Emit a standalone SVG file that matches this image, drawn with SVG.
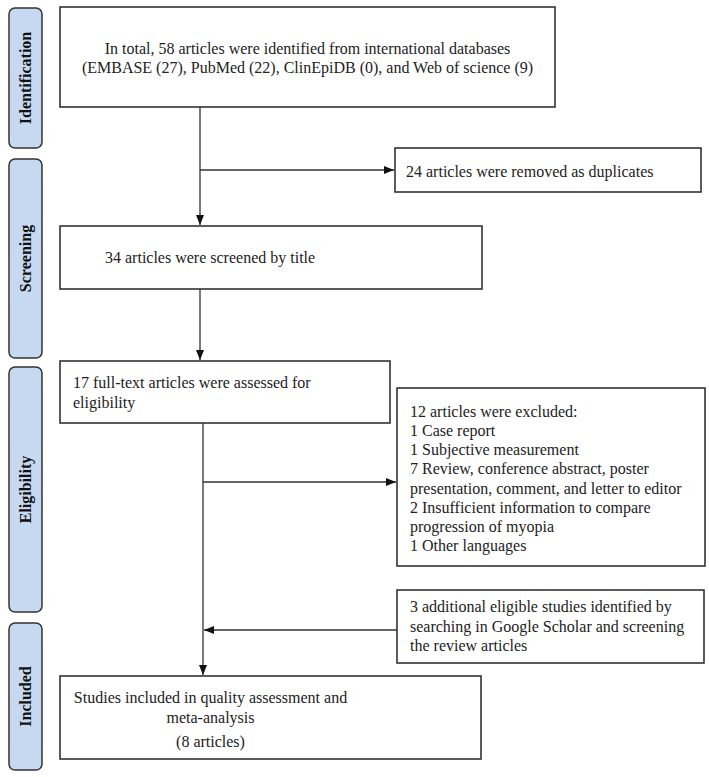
<svg xmlns="http://www.w3.org/2000/svg" width="709" height="777" viewBox="0 0 709 777">
<defs>
<marker id="ah" markerWidth="10" markerHeight="8" refX="10" refY="4" orient="auto" markerUnits="userSpaceOnUse">
<path d="M0,0 L10,4 L0,8 Z" fill="#111"/>
</marker>
<style>
.stage{fill:#c6d9f1;stroke:#333;stroke-width:1.5}
.stage-t{font-family:"Liberation Serif","Times New Roman",serif;font-size:16px;font-weight:bold;fill:#111;text-anchor:middle}
.box{fill:#fff;stroke:#333;stroke-width:1.6}
.t{font-family:"Liberation Serif","Times New Roman",serif;font-size:16px;fill:#222}
.c{text-anchor:middle}
.ln{stroke:#333;stroke-width:1.3;fill:none}
</style>
</defs>
<rect width="709" height="777" fill="#fff"/>
<g id="stage-identification">
<rect class="stage" x="9" y="8" width="33" height="140" rx="6"/>
<text class="stage-t" transform="translate(31,78) rotate(-90)">Identification</text>
</g>
<g id="stage-screening">
<rect class="stage" x="9" y="159" width="33" height="199" rx="6"/>
<text class="stage-t" transform="translate(31,258.5) rotate(-90)">Screening</text>
</g>
<g id="stage-eligibility">
<rect class="stage" x="9" y="367" width="33" height="245" rx="6"/>
<text class="stage-t" transform="translate(31,489.5) rotate(-90)">Eligibility</text>
</g>
<g id="stage-included">
<rect class="stage" x="9" y="623" width="33" height="147" rx="6"/>
<text class="stage-t" transform="translate(31,696.5) rotate(-90)">Included</text>
</g>
<g id="identified">
<rect class="box" x="60" y="7" width="495" height="100"/>
<text class="t c" x="307.5" y="54">In total, 58 articles were identified from international databases</text>
<text class="t c" x="307.5" y="73">(EMBASE (27), PubMed (22), ClinEpiDB (0), and Web of science (9)</text>
</g>
<g id="duplicates">
<rect class="box" x="395" y="148" width="306" height="44"/>
<text class="t" x="406" y="177">24 articles were removed as duplicates</text>
</g>
<g id="screened">
<rect class="box" x="60" y="226" width="422" height="63"/>
<text class="t" x="105" y="263">34 articles were screened by title</text>
</g>
<g id="fulltext">
<rect class="box" x="60" y="361" width="330" height="62"/>
<text class="t" x="73" y="388">17 full-text articles were assessed for</text>
<text class="t" x="73" y="408">eligibility</text>
</g>
<g id="excluded">
<rect class="box" x="397" y="388" width="308" height="178"/>
<text class="t" x="410" y="417">12 articles were excluded:</text>
<text class="t" x="410" y="436">1 Case report</text>
<text class="t" x="410" y="455">1 Subjective measurement</text>
<text class="t" x="410" y="474">7 Review, conference abstract, poster</text>
<text class="t" x="410" y="493.5">presentation, comment, and letter to editor</text>
<text class="t" x="410" y="512.5">2 Insufficient information to compare</text>
<text class="t" x="410" y="532">progression of myopia</text>
<text class="t" x="410" y="551">1 Other languages</text>
</g>
<g id="additional">
<rect class="box" x="397" y="590" width="307" height="73"/>
<text class="t" x="410" y="612">3 additional eligible studies identified by</text>
<text class="t" x="410" y="632">searching in Google Scholar and screening</text>
<text class="t" x="410" y="651">the review articles</text>
</g>
<g id="included">
<rect class="box" x="60" y="676" width="421" height="83"/>
<text class="t c" x="210.5" y="703">Studies included in quality assessment and</text>
<text class="t c" x="210.5" y="723">meta-analysis</text>
<text class="t c" x="210.5" y="747">(8 articles)</text>
</g>
<g id="connectors">
<line class="ln" x1="200" y1="107" x2="200" y2="225" marker-end="url(#ah)"/>
<line class="ln" x1="200" y1="170" x2="394" y2="170" marker-end="url(#ah)"/>
<line class="ln" x1="200" y1="289" x2="200" y2="360" marker-end="url(#ah)"/>
<line class="ln" x1="203" y1="423" x2="203" y2="675" marker-end="url(#ah)"/>
<line class="ln" x1="203" y1="482" x2="396" y2="482" marker-end="url(#ah)"/>
<line class="ln" x1="397" y1="630" x2="204" y2="630" marker-end="url(#ah)"/>
</g>
</svg>
